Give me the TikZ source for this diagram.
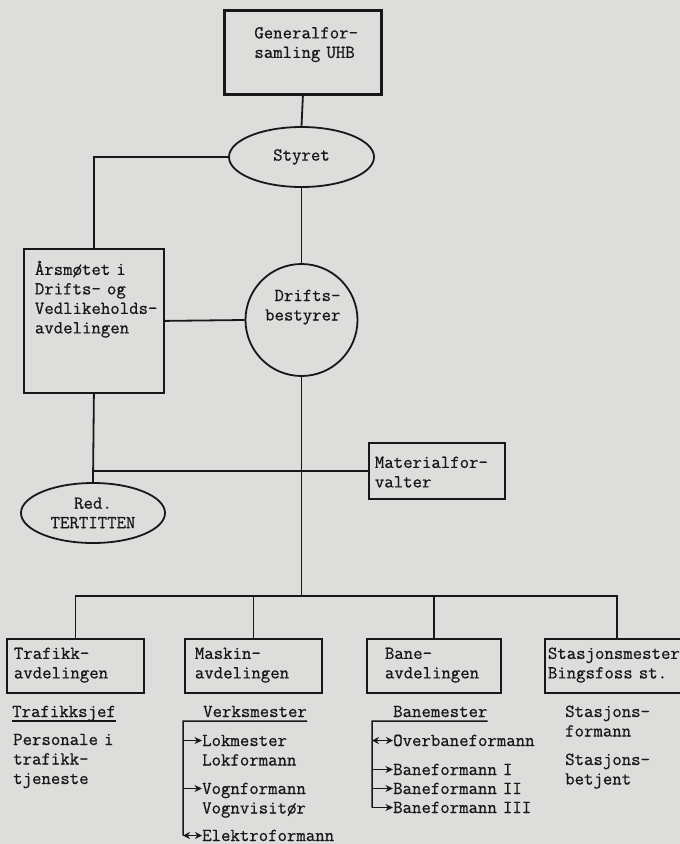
\documentclass[tikz,border=0pt]{standalone}
\usepackage{fontspec}
\setmonofont[FakeBold=0.7]{Latin Modern Mono}
\usetikzlibrary{arrows.meta, shapes.geometric, positioning}
\definecolor{paper}{RGB}{221,221,219}
\definecolor{ink}{RGB}{24,24,24}
\hyphenpenalty=10000
\exhyphenpenalty=10000
\tikzset{
  box/.style = {draw=ink, line width=1.8pt, align=left, anchor=north west, inner ysep=8pt},
  unit/.style = {box, text height=12pt, text depth=26pt},
  oval/.style = {draw=ink, line width=1.8pt, ellipse, align=center, inner sep=0pt},
  link/.style = {draw=ink, line width=1.8pt},
  txt/.style = {inner sep=0pt, anchor=base west, text depth=4pt},
  list/.style = {inner sep=0pt, anchor=base west, align=left, text width=#1},
  list/.default = 146pt,
  bar/.style = {draw=ink, line width=1.5pt},
  tip/.style = {bar, -{Stealth[length=7.5pt, width=7pt]}},
  tips/.style = {bar, {Stealth[length=7pt, width=7pt]}-{Stealth[length=7pt, width=7pt]}}
}
\begin{document}
\begin{tikzpicture}[x=1pt, y=-1pt, font=\ttfamily\fontsize{18.3}{19.5}\selectfont, text=ink]
\fill[paper, use as bounding box] (0,0) rectangle (680,844);

% top of the tree
\node[box, line width=2.8pt, text width=97pt, inner xsep=30pt, text height=20pt, text depth=48pt] (gf) at (223,9) {Generalfor-\\samling~UHB};
\node[oval, minimum width=145pt, minimum height=60pt] (styret) at (301.5,157) {Styret};
\node[circle, draw=ink, line width=1.8pt, minimum size=112pt, inner sep=0pt, align=right, text width=78pt, text height=12pt, text depth=50pt] (drifts) at (301.5,320) {Drifts-\\bestyrer};

% left side
\node[box, text width=118pt, inner xsep=11pt, text height=18pt, text depth=110pt] (aars) at (23,248) {Årsmøtet i\\Drifts- og\\Vedlikeholds-\\avdelingen};
\node[oval, minimum width=144pt, minimum height=60pt] (red) at (93,513) {Red.\\TERTITTEN};
\node[box, text width=124pt, inner xsep=6pt, text height=17pt, text depth=23pt] (mat) at (368,442) {Materialfor-\\valter};

% departments
\node[unit, text width=123pt, inner xsep=7pt] (traf) at (6,638) {Trafikk-\\avdelingen};
\node[unit, text width=117pt, inner xsep=10pt] (mask) at (184,638) {Maskin-\\avdelingen};
\node[unit, text width=98pt, inner xsep=18pt] (bane) at (366,638) {Bane-\\avdelingen};
\node[unit, text width=138pt, inner xsep=3pt] (stas) at (544,638) {Stasjonsmester\\Bingsfoss st.};

% lines
\coordinate (bus) at (301.5,596);
\draw[link] (gf.south) -- (styret.north);
\draw[link] (styret.south) -- (drifts.north);
\draw[link] (styret.west) -| (aars.north);
\draw[link] (aars.east) -- (drifts.west);
\draw[link] (aars.south) -- (red.north);
\draw[link] (aars.south |- mat.west) -- (mat.west);
\draw[link] (drifts.south) -- (bus);
\draw[link] (traf.north) |- (bus) -| (stas.north);
\draw[link] (mask.north) -- (mask.north |- bus);
\draw[link] (bane.north) -- (bane.north |- bus);

% Trafikk
\node[txt] (sjef) at (12,717) {Trafikksjef};
\draw[bar] (sjef.south west) -- (sjef.south east);
\node[list] (pers) at (13,745) {Personale i\\trafikk-\\tjeneste};

% Maskin
\node[txt] (verk) at (203,717) {Verksmester};
\coordinate (mbar) at (183,721);
\node[list] (lok) at (202,746) {Lokmester\\Lokformann};
\node[list] (vogn) at (202,794) {Vognformann\\Vognvisitør};
\node[list] (elek) at (202,841) {Elektroformann};
\draw[bar] (verk.south east) -- (mbar) -- ([yshift=5.5pt]elek.base west -| mbar);
\foreach \n in {lok, vogn}
  \draw[tip] ([yshift=5.5pt]\n.base west -| mbar) -- ([yshift=5.5pt]\n.base west);
\draw[tips] ([yshift=5.5pt]elek.base west -| mbar) -- ([yshift=5.5pt]elek.base west);

% Bane
\node[txt] (bm) at (393,717) {Banemester};
\coordinate (bbar) at (372,721);
\node[list] (ov) at (393,746) {Overbaneformann};
\node[list] (b1) at (393,775) {Baneformann I};
\node[list] (b2) at (393,794) {Baneformann II};
\node[list] (b3) at (393,813) {Baneformann III};
\draw[bar] (bm.south east) -- (bbar) -- ([yshift=5.5pt]b3.base west -| bbar);
\draw[tips] ([yshift=5.5pt]ov.base west -| bbar) -- ([yshift=5.5pt]ov.base west);
\foreach \n in {b1, b2, b3}
  \draw[tip] ([yshift=5.5pt]\n.base west -| bbar) -- ([yshift=5.5pt]\n.base west);

% Stasjon
\node[list=100pt] (sform) at (565,717) {Stasjons-\\formann};
\node[list=100pt] (sbetj) at (565,765) {Stasjons-\\betjent};

\end{tikzpicture}
\end{document}
